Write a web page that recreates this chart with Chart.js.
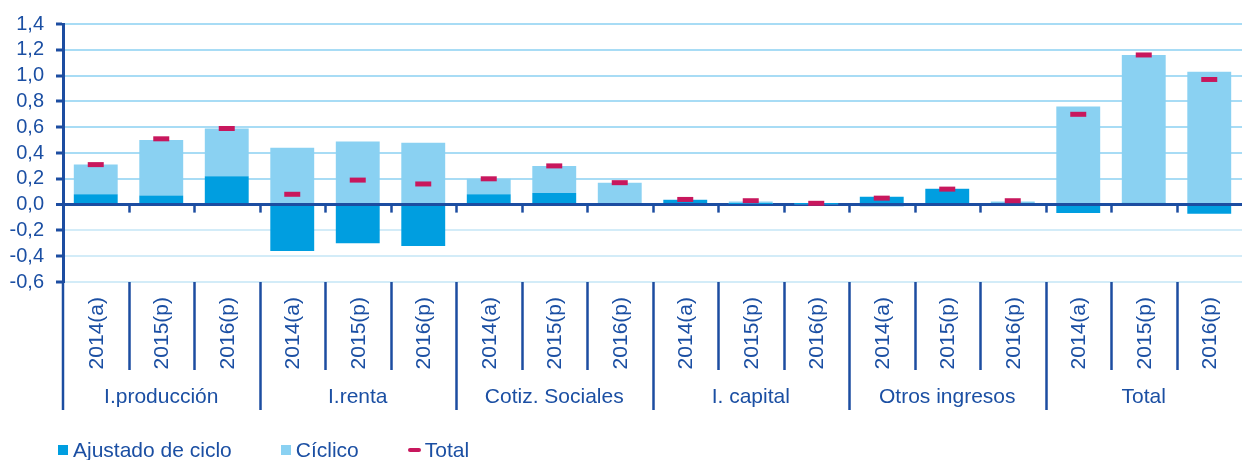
<!DOCTYPE html>
<html>
<head>
<meta charset="utf-8">
<script src="https://cdn.jsdelivr.net/npm/chart.js@4.4.0/dist/chart.umd.min.js"></script>
<style>
  html, body { margin: 0; padding: 0; background: #fff; }
  #wrap { position: relative; width: 1242px; height: 460px; }
  #legend {
    position: absolute; left: 58px; top: 438px;
    display: flex; align-items: center;
    font-family: "Liberation Sans", Arial, sans-serif; font-size: 21px; color: #1B4FA3;
  }
  #legend .item { display: flex; align-items: center; margin-right: 49px; }
  #legend .sq { width: 10px; height: 10px; margin-right: 5px; }
  #legend .dash { width: 13px; height: 4px; margin-right: 4px; border-radius: 2px; }
</style>
</head>
<body>
<div id="wrap">
  <canvas id="chart" width="1242" height="460"></canvas>
  <div id="legend">
    <div class="item"><span class="sq" style="background:#009EE0"></span>Ajustado de ciclo</div>
    <div class="item"><span class="sq" style="background:#8AD1F2"></span>Cíclico</div>
    <div class="item"><span class="dash" style="background:#C8175D"></span>Total</div>
  </div>
</div>
<script>
// Data
const groups = ["I.producción", "I.renta", "Cotiz. Sociales", "I. capital", "Otros ingresos", "Total"];
const years = ["2014(a)", "2015(p)", "2016(p)"];
const ajustado = [0.08, 0.07, 0.22, -0.36, -0.30, -0.32, 0.08, 0.09, 0.00, 0.035, 0.005, 0.003, 0.06, 0.12, 0.015, -0.065, 0.015, -0.07];
const ciclico  = [0.23, 0.43, 0.37, 0.44, 0.49, 0.48, 0.12, 0.21, 0.17, 0.005, 0.02, 0.003, -0.015, 0.005, 0.01, 0.76, 1.145, 1.03];
const totals   = [0.31, 0.51, 0.59, 0.08, 0.19, 0.16, 0.20, 0.30, 0.17, 0.04, 0.03, 0.01, 0.05, 0.12, 0.03, 0.70, 1.16, 0.97];

const labels = [];
groups.forEach(() => years.forEach(y => labels.push(y)));

const axisColor = "#1C4DA1";
const textColor = "#1B4FA3";
const FONT = "'Liberation Sans', Arial, sans-serif";

// Two-level x axis: year labels, separators, small ticks on the zero line, group names
const groupAxis = {
  id: "groupAxis",
  afterDraw(chart) {
    const { ctx, chartArea } = chart;
    const x = chart.scales.x, y = chart.scales.y;
    const zeroY = y.getPixelForValue(0);
    const bottom = chartArea.bottom;
    ctx.save();
    ctx.strokeStyle = axisColor;
    ctx.lineWidth = 2.5;
    // left axis extension down through the label area
    ctx.beginPath();
    ctx.moveTo(chartArea.left, bottom);
    ctx.lineTo(chartArea.left, bottom + 128);
    ctx.stroke();
    for (let i = 1; i < labels.length; i++) {
      const px = Math.round(x.getPixelForValue(i - 0.5)) + 0.5;
      ctx.beginPath();
      ctx.moveTo(px, zeroY);
      ctx.lineTo(px, zeroY + 8);
      ctx.stroke();
      const isGroup = i % years.length === 0;
      ctx.beginPath();
      ctx.moveTo(px, bottom);
      ctx.lineTo(px, bottom + (isGroup ? 128 : 88));
      ctx.stroke();
    }
    ctx.fillStyle = textColor;
    ctx.font = "21px " + FONT;
    // rotated year labels
    ctx.textAlign = "right";
    ctx.textBaseline = "middle";
    labels.forEach((lab, i) => {
      ctx.save();
      ctx.translate(x.getPixelForValue(i) + 1, bottom + 15);
      ctx.rotate(-Math.PI / 2);
      ctx.fillText(lab, 0, 0);
      ctx.restore();
    });
    ctx.textAlign = "center";
    groups.forEach((g, gi) => {
      const a = x.getPixelForValue(gi * years.length - 0.5);
      const b = x.getPixelForValue(gi * years.length + years.length - 0.5);
      ctx.fillText(g, (a + b) / 2, bottom + 115);
    });
    ctx.restore();
  }
};

new Chart(document.getElementById("chart"), {
  data: {
    labels: labels,
    datasets: [
      {
        type: "line",
        label: "Total",
        data: totals,
        showLine: false,
        pointStyle: "line",
        pointRadius: 8,
        pointHoverRadius: 8,
        pointBorderWidth: 5,
        borderColor: "#C8175D",
        backgroundColor: "#C8175D",
        order: 0
      },
      {
        type: "bar",
        label: "Ajustado de ciclo",
        data: ajustado,
        backgroundColor: "#009EE0",
        barPercentage: 0.67,
        categoryPercentage: 1,
        order: 1
      },
      {
        type: "bar",
        label: "Cíclico",
        data: ciclico,
        backgroundColor: "#8AD1F2",
        barPercentage: 0.67,
        categoryPercentage: 1,
        order: 2
      }
    ]
  },
  options: {
    responsive: false,
    animation: false,
    layout: { autoPadding: false, padding: { top: 22, right: 0, bottom: 48, left: 0 } },
    plugins: { legend: { display: false }, tooltip: { enabled: false } },
    scales: {
      x: {
        stacked: true,
        grid: { display: false },
        border: { display: false },
        afterFit: s => { s.height = 130; },
        ticks: { display: false }
      },
      y: {
        stacked: true,
        min: -0.6,
        max: 1.4,
        afterFit: s => { s.width = 63; },
        border: { color: axisColor, width: 3 },
        grid: {
          color: c => c.tick.value === 0 ? axisColor : (c.tick.value > 0 ? "#A8DCF5" : "#D3ECF8"),
          lineWidth: c => c.tick.value === 0 ? 3 : 2,
          tickLength: 7,
          tickColor: axisColor,
          tickWidth: 3
        },
        ticks: {
          autoSkip: false,
          stepSize: 0.2,
          padding: 12,
          color: textColor,
          font: { family: FONT, size: 20 },
          callback: v => v.toFixed(1).replace(".", ",")
        }
      }
    }
  },
  plugins: [groupAxis]
});
</script>
</body>
</html>
